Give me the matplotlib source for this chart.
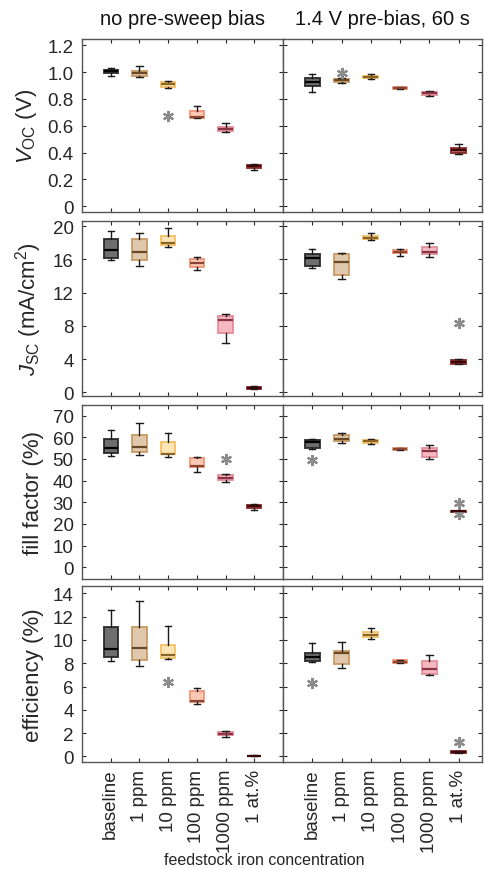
import numpy as np
import matplotlib
matplotlib.use('Agg')
import matplotlib.pyplot as plt

plt.rcParams['font.family'] = ['Liberation Sans', 'DejaVu Sans']
plt.rcParams['mathtext.fontset'] = 'custom'
plt.rcParams['mathtext.rm'] = 'Liberation Sans'
plt.rcParams['mathtext.it'] = 'Liberation Sans:italic'

categorias = ['baseline', '1 ppm', '10 ppm', '100 ppm', '1000 ppm', '1 at.%']
titulos = ['no pre-sweep bias', '1.4 V pre-bias, 60 s']
rotulos_y = ['$V_{\\rm OC}$ (V)', '$J_{\\rm SC}$ (mA/cm$^2$)', 'fill factor (%)', 'efficiency (%)']

# estatisticas de cada caixa: [whislo, q1, med, q3, whishi]
voc_sem = [[0.971, 0.991, 1.006, 1.019, 1.031],
           [0.961, 0.974, 0.996, 1.011, 1.043],
           [0.882, 0.889, 0.914, 0.929, 0.937],
           [0.656, 0.656, 0.663, 0.711, 0.745],
           [0.552, 0.559, 0.576, 0.589, 0.624],
           [0.271, 0.283, 0.298, 0.311, 0.318]]
voc_pre = [[0.855, 0.899, 0.924, 0.957, 0.989],
           [0.922, 0.929, 0.939, 0.949, 0.957],
           [0.947, 0.954, 0.964, 0.971, 0.986],
           [0.877, 0.877, 0.882, 0.889, 0.889],
           [0.820, 0.832, 0.845, 0.855, 0.862],
           [0.388, 0.400, 0.420, 0.437, 0.465]]
jsc_sem = [[15.9, 16.22, 17.15, 18.43, 19.4],
           [15.18, 15.9, 16.95, 18.43, 19.24],
           [17.55, 17.71, 18.03, 18.84, 19.76],
           [14.74, 15.06, 15.62, 16.06, 16.35],
           [5.9, 7.15, 8.71, 9.2, 9.4],
           [0.4, 0.45, 0.55, 0.65, 0.7]]
jsc_pre = [[14.98, 15.26, 16.14, 16.67, 17.23],
           [13.61, 14.18, 15.74, 16.63, 16.83],
           [18.35, 18.47, 18.63, 18.84, 19.2],
           [16.47, 16.75, 16.95, 17.1, 17.23],
           [16.27, 16.67, 16.9, 17.5, 17.99],
           [3.35, 3.45, 3.65, 3.85, 4.0]]
ff_sem = [[51.4, 52.6, 55.2, 59.4, 63.4],
          [51.8, 53.2, 55.4, 60.9, 66.5],
          [51.1, 52.2, 52.5, 57.7, 62.2],
          [43.8, 46.2, 46.9, 50.3, 50.9],
          [39.2, 40.2, 41.4, 42.5, 43.2],
          [26.5, 27.5, 28.2, 28.8, 29.4]]
ff_pre = [[54.5, 55.2, 58.0, 58.6, 59.1],
          [57.5, 58.2, 59.4, 60.9, 62.2],
          [56.8, 57.4, 58.2, 58.9, 59.4],
          [54.2, 54.2, 54.6, 55.1, 55.1],
          [50.0, 50.9, 53.5, 54.9, 56.5],
          [25.4, 25.4, 25.8, 26.2, 26.2]]
ef_sem = [[8.23, 8.57, 9.23, 11.09, 12.54],
          [7.77, 8.31, 9.29, 11.11, 13.31],
          [8.4, 8.49, 8.71, 9.6, 11.17],
          [4.54, 4.66, 4.74, 5.66, 5.86],
          [1.71, 1.83, 1.97, 2.11, 2.2],
          [0.03, 0.04, 0.06, 0.08, 0.09]]
ef_pre = [[8.11, 8.17, 8.51, 8.89, 9.74],
          [7.63, 7.97, 8.91, 9.09, 9.83],
          [10.06, 10.29, 10.43, 10.71, 11.0],
          [8.0, 8.0, 8.14, 8.29, 8.29],
          [6.97, 7.11, 7.49, 8.2, 8.69],
          [0.34, 0.34, 0.4, 0.46, 0.46]]

# outliers: (indice da categoria, valor)
out_voc_sem = [(2, 0.671)]
out_voc_pre = [(1, 0.994)]
out_jsc_sem = []
out_jsc_pre = [(5, 8.39)]
out_ff_sem = [(4, 50.0)]
out_ff_pre = [(0, 49.5), (5, 29.7), (5, 24.6)]
out_ef_sem = [(2, 6.4)]
out_ef_pre = [(0, 6.31), (5, 1.2)]

dados = [[voc_sem, voc_pre], [jsc_sem, jsc_pre], [ff_sem, ff_pre], [ef_sem, ef_pre]]
outliers = [[out_voc_sem, out_voc_pre], [out_jsc_sem, out_jsc_pre],
            [out_ff_sem, out_ff_pre], [out_ef_sem, out_ef_pre]]

limites_y = [(-0.045, 1.247), (-0.45, 20.6), (-5.4, 75), (-0.45, 14.6)]
ticks_y = [np.arange(0, 1.21, 0.2), np.arange(0, 21, 4), np.arange(0, 71, 10), np.arange(0, 15, 2)]
fmt_y = [lambda v: '0' if v == 0 else '%.1f' % v, lambda v: '%d' % v,
         lambda v: '%d' % v, lambda v: '%d' % v]

cor_face = ['#5e5e5e', '#dcc2a2', '#fde3ad', '#fcc3ad', '#f3b2ba', '#bb5454']
cor_borda = ['#262626', '#c89862', '#f5bf62', '#f39272', '#e58a98', '#8a2424']
cor_med = ['#000000', '#6a4a26', '#8a6424', '#8a4632', '#8a3444', '#3a0808']
cinza = '#262626'

fig = plt.figure(figsize=(4.84, 8.70), dpi=100)
fundos = [0.7548, 0.5437, 0.3333, 0.1233]
alturas = [0.1992, 0.2008, 0.2003, 0.2016]
esquerdas = [0.1694, 0.5847]
larguras = [0.4153, 0.4112]
xlims = [(0, 7), (0, 6.8)]

for i in range(4):
    for j in range(2):
        ax = fig.add_axes([esquerdas[j], fundos[i], larguras[j], alturas[i]])
        stats = []
        for k, s in enumerate(dados[i][j]):
            stats.append({'whislo': s[0], 'q1': s[1], 'med': s[2], 'q3': s[3],
                          'whishi': s[4], 'fliers': []})
        bp = ax.bxp(stats, positions=range(1, 7), widths=0.5, patch_artist=True,
                    showfliers=False, manage_ticks=False,
                    whiskerprops=dict(color='#1a1a1a', lw=1.0),
                    capprops=dict(color='#1a1a1a', lw=1.0),
                    capwidths=0.22)
        for k in range(6):
            bp['boxes'][k].set_facecolor(cor_face[k])
            bp['boxes'][k].set_edgecolor(cor_borda[k])
            bp['boxes'][k].set_linewidth(1.4)
            bp['boxes'][k].set_alpha(0.9)
            bp['medians'][k].set_color(cor_med[k])
            bp['medians'][k].set_linewidth(1.6)
        for k, v in outliers[i][j]:
            ax.plot(k + 1, v, marker=(6, 2, 0), color='#8c8c8c', ms=8, mew=1.6, ls='none')
        ax.set_xlim(*xlims[j])
        ax.set_ylim(*limites_y[i])
        ax.set_xticks(range(1, 7))
        ax.set_yticks(ticks_y[i])
        ax.tick_params(direction='in', top=True, right=True, length=3, width=0.8,
                       colors=cinza, labelsize=13.5)
        ax.tick_params(axis='y', pad=6)
        ax.tick_params(axis='x', pad=5)
        if j == 0:
            ax.set_yticklabels([fmt_y[i](v) for v in ticks_y[i]])
            ax.set_ylabel(rotulos_y[i], fontsize=16, color=cinza, labelpad=6)
        else:
            ax.set_yticklabels([])
        if i == 3:
            ax.set_xticklabels(categorias, rotation=90, fontsize=13.5)
        else:
            ax.set_xticklabels([])
        if i == 0:
            ax.set_title(titulos[j], fontsize=14.5, color='#111111', pad=11)
        for sp in ax.spines.values():
            sp.set_color('#555555')
            sp.set_linewidth(1.0)

fig.text(0.547, 0.011, 'feedstock iron concentration', ha='center', va='center',
         fontsize=11.5, color=cinza)

fig.savefig('out.png', dpi=100)
